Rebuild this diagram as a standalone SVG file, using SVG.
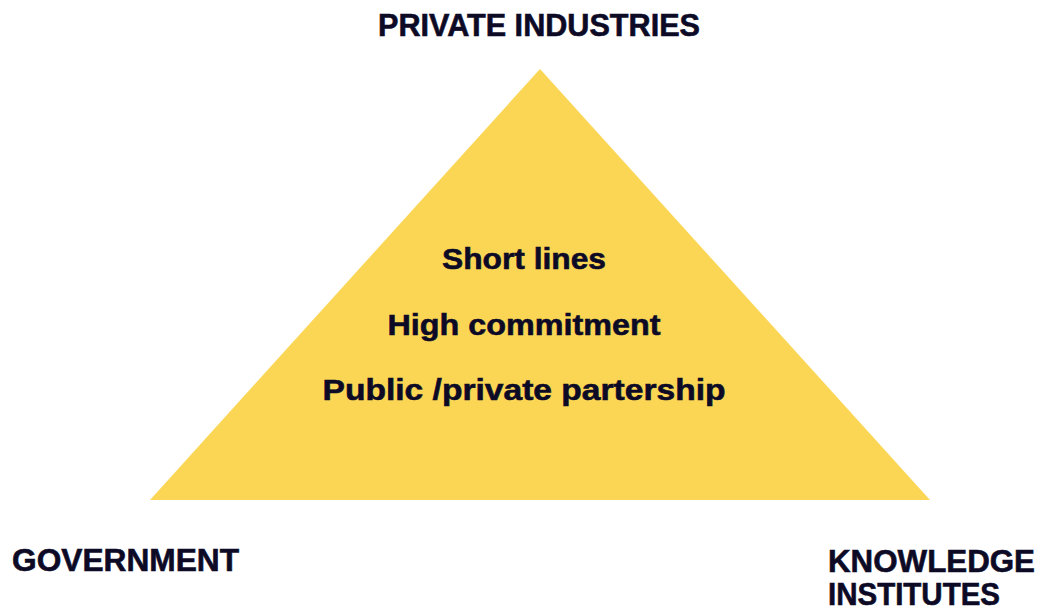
<svg xmlns="http://www.w3.org/2000/svg" width="1043" height="613" viewBox="0 0 1043 613">
<style>
.lbl{font-family:"Liberation Sans",Arial,sans-serif;font-weight:bold;fill:#0d0a26;stroke:#0d0a26;stroke-width:0.6px;font-size:31px}
.inner{font-family:"Liberation Sans",Arial,sans-serif;font-weight:bold;fill:#0d0a26;stroke:#0d0a26;stroke-width:0.6px;font-size:30px;text-anchor:middle}
</style>
<rect width="1043" height="613" fill="#ffffff"/>
<g id="triangle">
<polygon points="540,69 150,500 930,500" fill="#FBD655"/>
<text class="inner" x="524" y="269" textLength="164" lengthAdjust="spacingAndGlyphs">Short lines</text>
<text class="inner" x="524" y="335" textLength="273" lengthAdjust="spacingAndGlyphs">High commitment</text>
<text class="inner" x="524" y="400" textLength="403" lengthAdjust="spacingAndGlyphs">Public /private partership</text>
</g>
<g id="private-industries">
<text class="lbl" x="378" y="36" textLength="322" lengthAdjust="spacingAndGlyphs">PRIVATE INDUSTRIES</text>
</g>
<g id="government">
<text class="lbl" x="12" y="571" textLength="227" lengthAdjust="spacingAndGlyphs">GOVERNMENT</text>
</g>
<g id="knowledge-institutes">
<text class="lbl" x="828" y="572" textLength="207" lengthAdjust="spacingAndGlyphs">KNOWLEDGE</text>
<text class="lbl" x="828" y="605" textLength="172" lengthAdjust="spacingAndGlyphs">INSTITUTES</text>
</g>
<g id="connectors"></g>
</svg>
